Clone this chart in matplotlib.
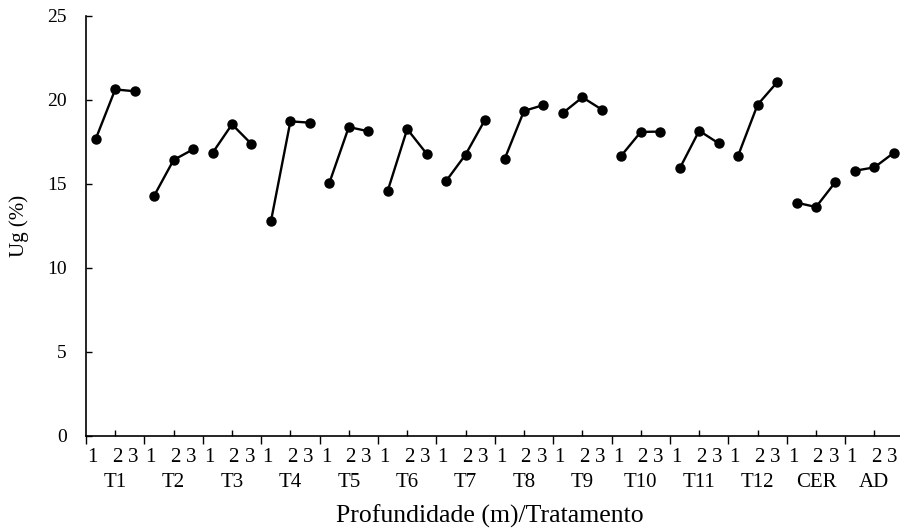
import matplotlib
matplotlib.use('Agg')
import matplotlib.pyplot as plt
import matplotlib.transforms as mtransforms
import numpy as np

plt.rcParams['font.family'] = ['Liberation Serif', 'DejaVu Serif']

# tratamentos e profundidades
grupos = ['T1', 'T2', 'T3', 'T4', 'T5', 'T6', 'T7', 'T8', 'T9', 'T10', 'T11', 'T12', 'CER', 'AD']
profundidades = ['1', '2', '3']

# umidade gravimetrica (%) por tratamento, profundidades 1, 2, 3
ug = [
    [17.68, 20.63, 20.52],
    [14.30, 16.43, 17.06],
    [16.85, 18.55, 17.38],
    [12.78, 18.73, 18.65],
    [15.06, 18.39, 18.14],
    [14.60, 18.27, 16.80],
    [15.18, 16.75, 18.83],
    [16.47, 19.35, 19.70],
    [19.23, 20.16, 19.43],
    [16.69, 18.10, 18.12],
    [15.93, 18.17, 17.42],
    [16.69, 19.72, 21.05],
    [13.89, 13.63, 15.12],
    [15.79, 15.99, 16.86],
]

fig = plt.figure(figsize=(9, 5.3), dpi=100)
ax = fig.add_axes([86/900, 94/530, 817.6/900, 420/530])

n = len(profundidades)
for i, vals in enumerate(ug):
    x = np.arange(n) + i*n
    ax.plot(x, vals, color='black', lw=1.7, marker='o', ms=6.5)

ax.set_xlim(-0.5, len(grupos)*n - 0.5)
ax.set_ylim(0, 25)
ax.set_yticks([0, 5, 10, 15, 20, 25])
ax.tick_params(axis='y', direction='in', length=4, width=1, pad=14, labelsize=14)

ax.set_xticks(np.arange(len(grupos)+1)*n - 0.5)
ax.set_xticklabels([])
ax.tick_params(axis='x', which='major', direction='out', length=6, width=1)
ax.set_xticks(np.arange(len(grupos))*n + 1, minor=True)
ax.tick_params(axis='x', which='minor', direction='in', length=4, width=1)

for s in ['top', 'right']:
    ax.spines[s].set_visible(False)
for s in ['left', 'bottom']:
    ax.spines[s].set_linewidth(1.2)

tr = ax.get_xaxis_transform()
# small shifts like the original labels
desloc = [-2.5, 1.3, -1.2]
for i, g in enumerate(grupos):
    for j, p in enumerate(profundidades):
        t = tr + mtransforms.ScaledTranslation(desloc[j]/72, 0, fig.dpi_scale_trans)
        ax.text(i*n + j, -0.05, p, transform=t, ha='center', va='center', fontsize=15)
    ax.text(i*n + 1, -0.11, g, transform=tr, ha='center', va='center', fontsize=15)

ax.set_ylabel('Ug (%)', fontsize=15)
ax.yaxis.set_label_coords(-0.07, 0.5)
ax.set_xlabel('Profundidade (m)/Tratamento', fontsize=18.5)
ax.xaxis.set_label_coords(0.494, -0.163)
ax.xaxis.label.set_va('top')

fig.savefig('out.png', dpi=100)
